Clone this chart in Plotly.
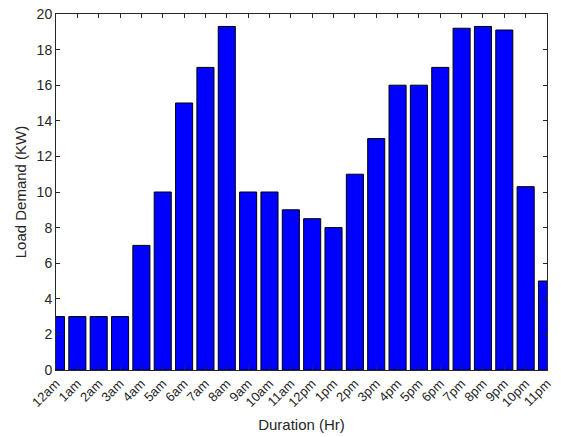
import plotly.graph_objects as go

categories = ["12am", "1am", "2am", "3am", "4am", "5am", "6am", "7am", "8am", "9am",
              "10am", "11am", "12pm", "1pm", "2pm", "3pm", "4pm", "5pm", "6pm", "7pm",
              "8pm", "9pm", "10pm", "11pm"]
load_kw = [3, 3, 3, 3, 7, 10, 15, 17, 19.3, 10, 10, 9, 8.5, 8, 11, 13, 16, 16, 17,
           19.2, 19.3, 19.1, 10.3, 5]
y_ticks = [0, 2, 4, 6, 8, 10, 12, 14, 16, 18, 20]

axis_color = "#262626"
font = dict(family="Liberation Sans, Arial, sans-serif", size=14, color=axis_color)

fig = go.Figure(go.Bar(
    x=categories, y=load_kw, width=0.8,
    marker=dict(color="#0000ff", line=dict(color="#000000", width=1)),
))

fig.update_layout(
    width=561, height=437,
    margin=dict(l=56, r=14, t=14, b=67),
    plot_bgcolor="white", paper_bgcolor="white",
    font=font, showlegend=False, bargap=0.2,
)
fig.update_xaxes(
    type="category", range=[0, 23], automargin=False,
    showline=True, linecolor=axis_color, linewidth=1, mirror="allticks",
    ticks="inside", ticklen=4, tickcolor=axis_color, tickangle=-45,
    tickfont=dict(size=13),
    showgrid=False, zeroline=False,
    title=dict(text="Duration (Hr)", font=dict(size=15), standoff=10),
)
fig.update_yaxes(
    range=[0, 20], tickvals=y_ticks, automargin=False,
    showline=True, linecolor=axis_color, linewidth=1, mirror="allticks",
    ticks="inside", ticklen=4, tickcolor=axis_color,
    tickfont=dict(size=14),
    showgrid=False, zeroline=False,
    title=dict(text="Load Demand (KW)", font=dict(size=15), standoff=6),
)

fig.write_html("out.html")
